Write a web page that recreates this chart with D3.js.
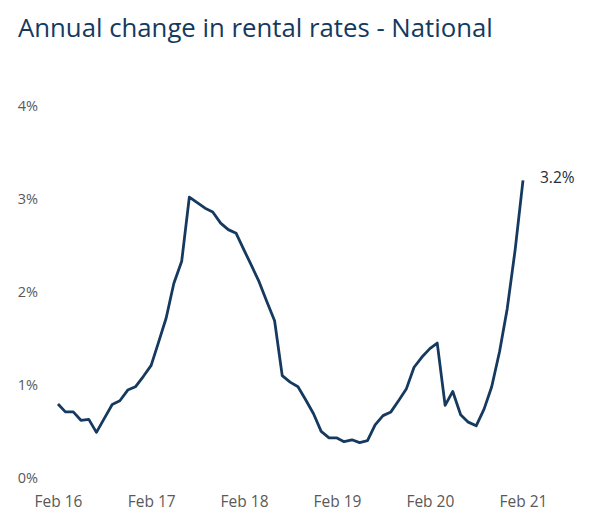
<!DOCTYPE html>
<html>
<head>
<meta charset="utf-8">
<script src="https://cdn.jsdelivr.net/npm/d3@7"></script>
<style>
  body { margin: 0; background: #fff; }
  svg { display: block; }
</style>
</head>
<body>
<div id="chart"></div>
<script>
// Annual change in rental rates - National (monthly, Feb 2016 - Feb 2021)

const title = "Annual change in rental rates - National";

const startMonth = new Date(2016, 1, 1);
const rates = [
  0.785, 0.70, 0.70, 0.61, 0.62, 0.48, 0.63, 0.78, 0.82, 0.935, 0.97,
  1.08, 1.20, 1.44, 1.71, 2.08, 2.32, 3.01, 2.95, 2.89, 2.85, 2.73, 2.66,
  2.62, 2.44, 2.28, 2.10, 1.89, 1.68, 1.09, 1.02, 0.97, 0.83, 0.68, 0.49,
  0.42, 0.42, 0.38, 0.40, 0.37, 0.39, 0.56, 0.66, 0.70, 0.82, 0.95, 1.18,
  1.29, 1.38, 1.44, 0.77, 0.92, 0.67, 0.59, 0.55, 0.73, 0.97, 1.35, 1.81,
  2.44, 3.19
];
const yTicks = [0, 1, 2, 3, 4];
const xTicks = [
  new Date(2016, 1, 1), new Date(2017, 1, 1), new Date(2018, 1, 1),
  new Date(2019, 1, 1), new Date(2020, 1, 1), new Date(2021, 1, 1)
];
const endLabel = "3.2%";

const data = rates.map((v, i) => ({
  date: d3.timeMonth.offset(startMonth, i),
  value: v
}));

const width = 590, height = 529;
const font = "Open Sans, Lato, sans-serif";

const svg = d3.select("#chart")
  .append("svg")
  .attr("width", width)
  .attr("height", height);

// title, shrunk to the width it has in the original
const t = svg.append("text")
  .attr("x", 18)
  .attr("y", 37)
  .attr("fill", "#133a5e")
  .attr("font-family", font)
  .attr("font-size", 28)
  .text(title);
const tw = t.node().getComputedTextLength();
t.attr("font-size", 28 * 475 / tw);

const x = d3.scaleTime()
  .domain([new Date(2016, 1, 1), new Date(2021, 1, 1)])
  .range([58, 523]);

const y = d3.scaleLinear()
  .domain([0, 4])
  .range([477, 105]);

// y axis labels (no line, no ticks)
svg.append("g")
  .attr("transform", "translate(38,0)")
  .call(d3.axisLeft(y).tickValues(yTicks).tickSize(0).tickPadding(0)
    .tickFormat(d => d + "%"))
  .call(g => g.select(".domain").remove())
  .call(g => g.selectAll("text")
    .attr("fill", "#595959")
    .attr("font-family", font)
    .attr("font-size", 14.5)
    .attr("dy", "0.35em"));

// x axis labels
svg.append("g")
  .attr("transform", "translate(0,496)")
  .call(d3.axisBottom(x).tickValues(xTicks).tickSize(0).tickPadding(0)
    .tickFormat(d3.timeFormat("Feb %y")))
  .call(g => g.select(".domain").remove())
  .call(g => g.selectAll("text")
    .attr("fill", "#595959")
    .attr("font-family", font)
    .attr("font-size", 15.5)
    .attr("dy", "0.71em"));

const line = d3.line()
  .x(d => x(d.date))
  .y(d => y(d.value));

svg.append("path")
  .datum(data)
  .attr("fill", "none")
  .attr("stroke", "#163a5f")
  .attr("stroke-width", 2.8)
  .attr("stroke-linejoin", "round")
  .attr("d", line);

const last = data[data.length - 1];
svg.append("text")
  .attr("x", x(last.date) + 17)
  .attr("y", y(last.value))
  .attr("dy", "0.15em")
  .attr("fill", "#1f2d3d")
  .attr("font-family", font)
  .attr("font-size", 15.5)
  .text(endLabel);
</script>
</body>
</html>
